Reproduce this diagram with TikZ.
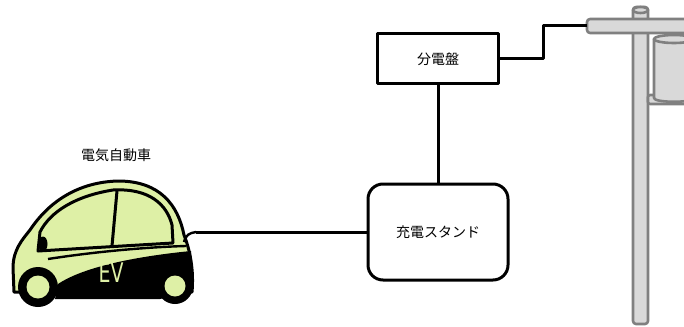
\documentclass[tikz,border=0pt]{standalone}
\usepackage{fontspec}
\newfontfamily\jp{Noto Sans CJK JP}
\newfontfamily\evfont[FakeStretch=0.7]{DejaVu Sans}
\definecolor{evgreen}{RGB}{222,240,166}
\definecolor{polefill}{RGB}{217,217,217}
\definecolor{poleline}{RGB}{128,128,128}

\begin{document}
\begin{tikzpicture}[x=1pt, y=-1pt, line join=round,
    every node/.style={font=\jp\fontsize{14}{16}\selectfont},
    box/.style={draw, line width=3pt, minimum width=121pt, minimum height=50pt, inner sep=0pt},
    wire/.style={line width=3pt},
    pole/.style={fill=polefill, draw=poleline, line width=2.6pt},
    body/.style={fill=evgreen, draw=black, line width=3pt}]
    \clip (0,0) rectangle (684,326);

    % utility pole with transformer
    \draw[pole, rounded corners=3pt] (633,7) rectangle (648,324);
    \draw[pole] (640.5,10) ellipse (7.5 and 3);
    \draw[pole, rounded corners=3pt] (587,19) rectangle (700,33);
    \draw[pole, rounded corners=2pt] (648,95) rectangle (700,104);
    \draw[pole] (654,39) -- (654,98) .. controls (654,103) and (694,103) .. (694,98) -- (694,39) -- cycle;
    \draw[pole] (674,39) ellipse (20 and 4);

    % car
    \draw[body] (14,292) -- (13,268) .. controls (13,250) and (22,240) .. (30,230)
        .. controls (50,200) and (80,182) .. (118,181)
        .. controls (160,181) and (178,205) .. (184,235)
        .. controls (190,250) and (194,270) .. (192,292) -- cycle;
    \fill (55,299) -- (58,284) .. controls (85,266) and (140,256) .. (191,251)
        -- (193,292) -- (160,299) -- cycle;
    \draw[line width=2.4pt] (48,259) .. controls (100,251) and (150,247) .. (186,246);
    \draw[body] (38,251) -- (40,232) .. controls (50,212) and (75,196) .. (113,190)
        .. controls (150,188) and (167,205) .. (172,225) -- (173,243) -- cycle;
    \draw[line width=3pt] (117,191) -- (112,246);
    \fill (43,244) ellipse (4.5 and 7.5);
    \fill (38,287) circle (20);
    \fill[evgreen] (38,287) circle (11.5);
    \fill (175,286) circle (18);
    \fill[evgreen] (175,286) circle (10.5);
    \node[font=\evfont\fontsize{27}{27}\selectfont, text=evgreen, inner sep=0pt] (ev) at (111,273) {EV};
    \coordinate (plug) at (196,232);
    \draw[line width=2.4pt] (184,242) .. controls (186,235) and (189,233) .. (plug);

    \node (evlabel) at (116,155) {電気自動車};
    \node[box] (board) at (438,59) {分電盤};
    \node[box, rounded corners=15pt, minimum width=140pt, minimum height=96pt] (stand) at (438,232) {充電スタンド};
    \coordinate (arm) at (587,26);

    \draw[wire] (board) -- (stand);
    \draw[wire] (board.east) -- (543,59) |- (arm);
    \draw[wire] (plug) -- (stand.west);
\end{tikzpicture}
\end{document}
